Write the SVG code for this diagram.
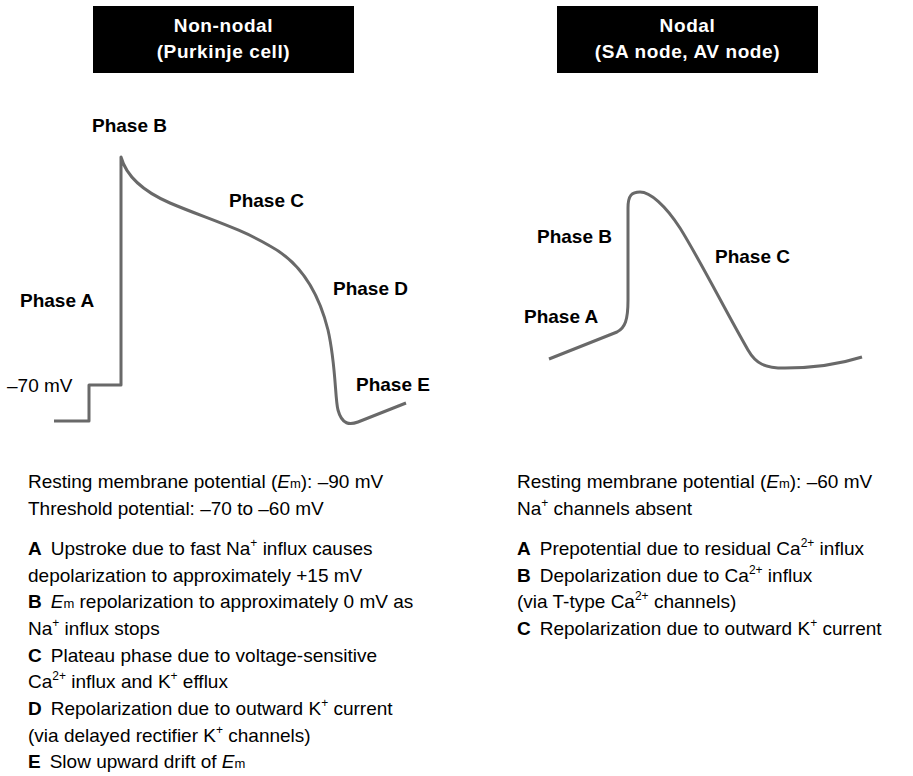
<svg xmlns="http://www.w3.org/2000/svg" width="913" height="776" viewBox="0 0 913 776">
<style>
.hdr{fill:#000}
.ht{font-family:"Liberation Sans",Arial,sans-serif;font-weight:bold;font-size:19px;letter-spacing:0.6px;fill:#fff;text-anchor:middle}
.ph{font-family:"Liberation Sans",Arial,sans-serif;font-weight:bold;font-size:19px;fill:#000}
.tx{font-family:"Liberation Sans",Arial,sans-serif;font-size:19px;fill:#000}
.b{font-weight:bold}
.i{font-style:italic}
.curve{fill:none;stroke:#696969;stroke-width:3;stroke-linejoin:round;stroke-linecap:butt}
</style>
<rect width="913" height="776" fill="#fff"/>
<g id="header-nonnodal">
<rect class="hdr" x="93" y="6" width="261" height="67"/>
<text class="ht" x="223.5" y="32">Non-nodal</text>
<text class="ht" x="223.5" y="58">(Purkinje cell)</text>
</g>
<g id="header-nodal">
<rect class="hdr" x="557" y="6" width="261" height="67"/>
<text class="ht" x="687.5" y="32">Nodal</text>
<text class="ht" x="687.5" y="58">(SA node, AV node)</text>
</g>
<g id="connectors">
<path id="curve-nonnodal" class="curve" d="M54,421 H89 V385 H121 V157 C126,175 140,190 170,203 C205,218 240,228 270,246 C300,262 318,290 328,330 C336,365 335,400 338,410 C342,425 350,425 358,422 L406,403"/>
<path id="curve-nodal" class="curve" d="M549,359 L617,332 C625,328 628,320 628,300 L628,208 C628,195 632,192 640,192 C650,192 665,205 680,228 C700,260 725,310 748,350 C756,364 765,368 785,368 C815,368 840,364 862,357"/>
</g>
<g id="labels-nonnodal">
<text class="ph" x="92" y="132">Phase B</text>
<text class="ph" x="229" y="207">Phase C</text>
<text class="ph" x="333" y="295">Phase D</text>
<text class="ph" x="20" y="307">Phase A</text>
<text class="ph" x="356" y="391">Phase E</text>
<text class="tx" x="7" y="392">–70 mV</text>
</g>
<g id="labels-nodal">
<text class="ph" x="537" y="243">Phase B</text>
<text class="ph" x="715" y="263">Phase C</text>
<text class="ph" x="524" y="323">Phase A</text>
</g>
<g id="text-nonnodal">
<text class="tx" x="28" y="488">Resting membrane potential (<tspan class="i">E</tspan><tspan font-size="13">m</tspan>): –90 mV</text>
<text class="tx" x="28" y="515">Threshold potential: –70 to –60 mV</text>
<text class="tx" x="28" y="555"><tspan class="b">A</tspan><tspan dx="9">Upstroke due to fast Na</tspan><tspan font-size="12" dy="-8">+</tspan><tspan dy="8"> influx causes</tspan></text>
<text class="tx" x="28" y="582">depolarization to approximately +15 mV</text>
<text class="tx" x="28" y="608"><tspan class="b">B</tspan><tspan class="i" dx="9">E</tspan><tspan font-size="13">m</tspan> repolarization to approximately 0 mV as</text>
<text class="tx" x="28" y="635">Na<tspan font-size="12" dy="-8">+</tspan><tspan dy="8"> influx stops</tspan></text>
<text class="tx" x="28" y="662"><tspan class="b">C</tspan><tspan dx="9">Plateau phase due to voltage-sensitive</tspan></text>
<text class="tx" x="28" y="688">Ca<tspan font-size="12" dy="-8">2+</tspan><tspan dy="8"> influx and K</tspan><tspan font-size="12" dy="-8">+</tspan><tspan dy="8"> efflux</tspan></text>
<text class="tx" x="28" y="715"><tspan class="b">D</tspan><tspan dx="9">Repolarization due to outward K</tspan><tspan font-size="12" dy="-8">+</tspan><tspan dy="8"> current</tspan></text>
<text class="tx" x="28" y="742">(via delayed rectifier K<tspan font-size="12" dy="-8">+</tspan><tspan dy="8"> channels)</tspan></text>
<text class="tx" x="28" y="768"><tspan class="b">E</tspan><tspan dx="9">Slow upward drift of </tspan><tspan class="i">E</tspan><tspan font-size="13">m</tspan></text>
</g>
<g id="text-nodal">
<text class="tx" x="517" y="488">Resting membrane potential (<tspan class="i">E</tspan><tspan font-size="13">m</tspan>): –60 mV</text>
<text class="tx" x="517" y="515">Na<tspan font-size="12" dy="-8">+</tspan><tspan dy="8"> channels absent</tspan></text>
<text class="tx" x="517" y="555"><tspan class="b">A</tspan><tspan dx="9">Prepotential due to residual Ca</tspan><tspan font-size="12" dy="-8">2+</tspan><tspan dy="8"> influx</tspan></text>
<text class="tx" x="517" y="582"><tspan class="b">B</tspan><tspan dx="9">Depolarization due to Ca</tspan><tspan font-size="12" dy="-8">2+</tspan><tspan dy="8"> influx</tspan></text>
<text class="tx" x="517" y="608">(via T-type Ca<tspan font-size="12" dy="-8">2+</tspan><tspan dy="8"> channels)</tspan></text>
<text class="tx" x="517" y="635"><tspan class="b">C</tspan><tspan dx="9">Repolarization due to outward K</tspan><tspan font-size="12" dy="-8">+</tspan><tspan dy="8"> current</tspan></text>
</g>
</svg>
